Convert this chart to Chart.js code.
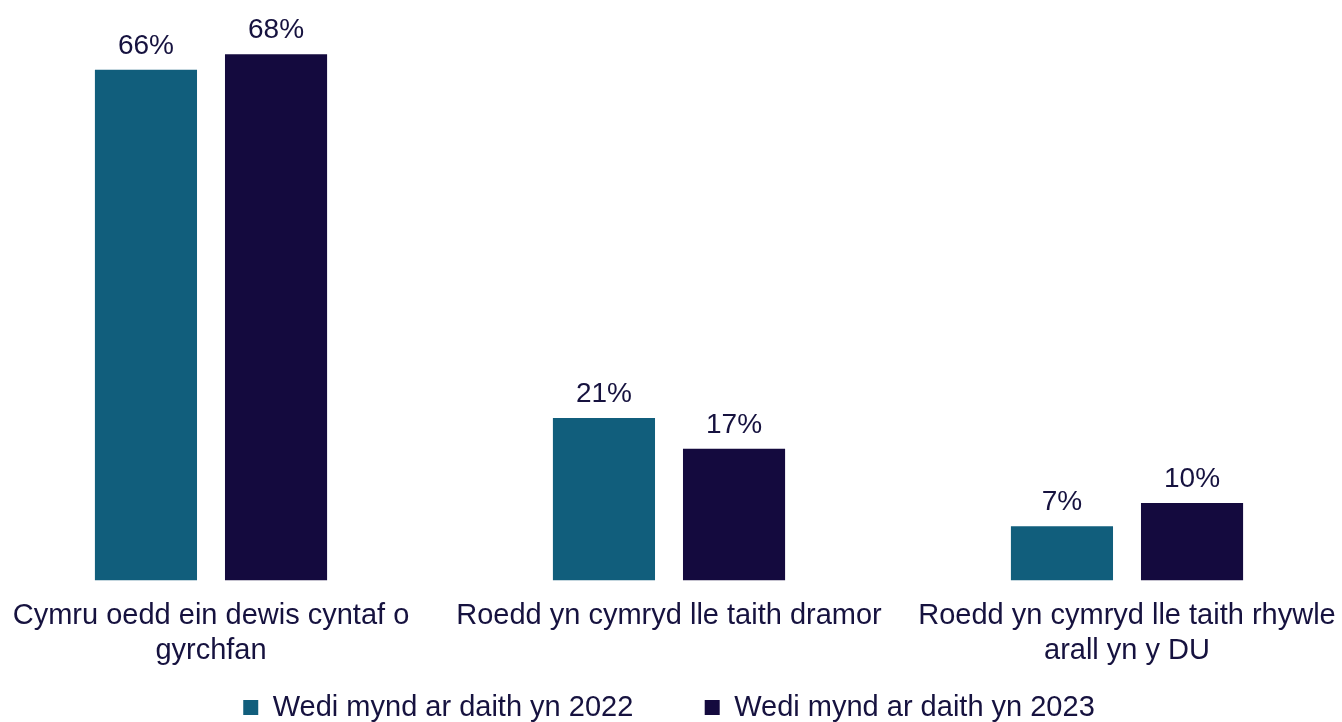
<!DOCTYPE html>
<html>
<head>
<meta charset="utf-8">
<script src="https://cdn.jsdelivr.net/npm/chart.js@4"></script>
<style>
  html, body { margin: 0; padding: 0; background: #fff; overflow: hidden; }
  #wrap { position: absolute; left: -18px; top: 0; width: 1374px; height: 722px; }
</style>
</head>
<body>
<div id="wrap"><canvas id="travelChart"></canvas></div>
<script>
// Chart data
const categories = [
  ["Cymru oedd ein dewis cyntaf o", "gyrchfan"],
  "Roedd yn cymryd lle taith dramor",
  ["Roedd yn cymryd lle taith rhywle", "arall yn y DU"]
];
const seriesNames = ["Wedi mynd ar daith yn 2022", "Wedi mynd ar daith yn 2023"];
const values2022 = [66, 21, 7];
const values2023 = [68, 17, 10];

const textColour = "#16123f";
const fontFamily = "'Liberation Sans', Arial, sans-serif";

// Draw the % labels above each bar
const barLabels = {
  id: "barLabels",
  afterDatasetsDraw(chart) {
    const ctx = chart.ctx;
    ctx.save();
    ctx.font = "28px " + fontFamily;
    ctx.fillStyle = textColour;
    ctx.textAlign = "center";
    ctx.textBaseline = "alphabetic";
    chart.data.datasets.forEach((ds, i) => {
      chart.getDatasetMeta(i).data.forEach((bar, j) => {
        ctx.fillText(ds.data[j] + "%", bar.x, bar.y - 16);
      });
    });
    ctx.restore();
  }
};

new Chart(document.getElementById("travelChart"), {
  type: "bar",
  data: {
    labels: categories,
    datasets: [
      { label: seriesNames[0], data: values2022, backgroundColor: "#115e7c" },
      { label: seriesNames[1], data: values2023, backgroundColor: "#140a3e" }
    ]
  },
  options: {
    responsive: true,
    maintainAspectRatio: false,
    animation: false,
    layout: { padding: { top: 0, bottom: -10 } },
    datasets: { bar: { categoryPercentage: 0.568, barPercentage: 0.785 } },
    scales: {
      x: {
        grid: { display: false },
        border: { display: false },
        ticks: {
          color: textColour,
          padding: 10,
          maxRotation: 0,
          autoSkip: false,
          font: { family: fontFamily, size: 29, lineHeight: 1.2 }
        }
      },
      y: {
        min: 0,
        max: 75,
        display: false
      }
    },
    plugins: {
      tooltip: { enabled: false },
      legend: {
        position: "bottom",
        labels: {
          color: textColour,
          boxWidth: 15,
          boxHeight: 15,
          padding: 15,
          font: { family: fontFamily, size: 29 },
          // trailing spaces widen the gap between the two legend entries
          generateLabels(chart) {
            const items = Chart.defaults.plugins.legend.labels.generateLabels(chart);
            items[0].text += "       ";
            return items;
          }
        }
      }
    }
  },
  plugins: [barLabels]
});
</script>
</body>
</html>
